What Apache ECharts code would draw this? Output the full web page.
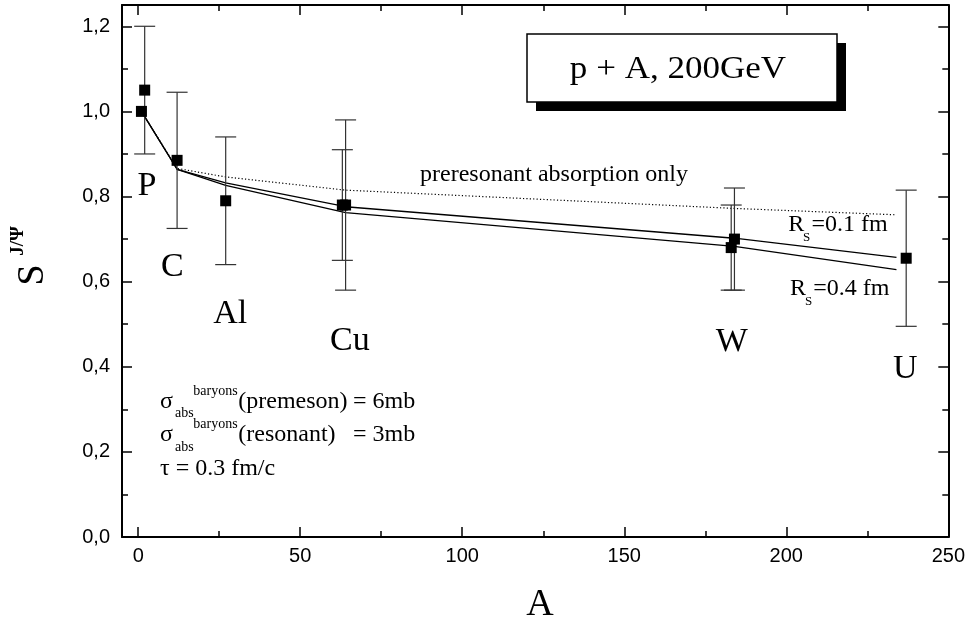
<!DOCTYPE html>
<html>
<head>
<meta charset="utf-8">
<script src="https://cdn.jsdelivr.net/npm/echarts@6/dist/echarts.min.js"></script>
<style>
  html, body { margin: 0; padding: 0; background: #fff; }
  #chart { width: 968px; height: 624px; }
</style>
</head>
<body>
<div id="chart"></div>
<script>
// Measured J/psi survival (S) versus nuclear mass number A
const dataA   = [1, 2, 12, 27, 63, 64, 183, 184, 237];
const dataS   = [1.0, 1.05, 0.885, 0.79, 0.78, 0.78, 0.68, 0.70, 0.655];
const errLow  = [null, 0.90, 0.725, 0.64, 0.65, 0.58, 0.58, 0.58, 0.495];
const errHigh = [null, 1.20, 1.045, 0.94, 0.91, 0.98, 0.78, 0.82, 0.815];

// Model curves
const modelA = [1, 12, 27, 64, 184, 234];
const rs01   = [1.0, 0.864, 0.832, 0.776, 0.702, 0.657];
const rs04   = [1.0, 0.864, 0.826, 0.762, 0.683, 0.628];
const preres = [1.0, 0.866, 0.846, 0.815, 0.772, 0.757];

// Nucleus labels and where they sit (A, S)
const nucleusNames = ['P', 'C', 'Al', 'Cu', 'W', 'U'];
const nucleusA     = [2.7, 10.5, 28.4, 65.3, 183.2, 236.7];
const nucleusS     = [0.825, 0.635, 0.524, 0.461, 0.459, 0.395];

// Axis ticks
const xMajor = [0, 50, 100, 150, 200, 250];
const xMinor = [25, 75, 125, 175, 225];
const yMajor = [0, 0.2, 0.4, 0.6, 0.8, 1.0, 1.2];
const yMinor = [0.1, 0.3, 0.5, 0.7, 0.9, 1.1];

const SERIF = '"Liberation Serif", "Times New Roman", serif';
const SANS = '"Liberation Sans", Arial, sans-serif';

const chart = echarts.init(document.getElementById('chart'), null, { renderer: 'canvas' });

const zip = (xs, ys) => xs.map((x, i) => [x, ys[i]]);
const errData = [];
dataA.forEach((a, i) => { if (errLow[i] != null) errData.push([a, errLow[i], errHigh[i]]); });

function axisX(pos, ticks, len, withLine, withLabels) {
  return {
    type: 'value', min: -5, max: 250, position: pos,
    axisLine: { show: withLine, onZero: false, lineStyle: { color: '#000', width: 2 } },
    axisTick: { show: true, inside: true, length: len, customValues: ticks, lineStyle: { color: '#000', width: 1.5 } },
    axisLabel: withLabels ? {
      show: true, customValues: ticks, margin: 9, color: '#000', fontSize: 20, fontFamily: SANS,
      formatter: v => String(Math.round(v))
    } : { show: false },
    splitLine: { show: false }
  };
}
function axisY(pos, ticks, len, withLine, withLabels) {
  return {
    type: 'value', min: 0, max: 1.25, position: pos,
    axisLine: { show: withLine, onZero: false, lineStyle: { color: '#000', width: 2 } },
    axisTick: { show: true, inside: true, length: len, customValues: ticks, lineStyle: { color: '#000', width: 1.5 } },
    axisLabel: withLabels ? {
      show: true, customValues: ticks, margin: 12, color: '#000', fontSize: 20, fontFamily: SANS,
      formatter: v => v.toFixed(1).replace('.', ',')
    } : { show: false },
    splitLine: { show: false }
  };
}

function txt(x, y, text, size) {
  return {
    type: 'text', x: x, y: y, z: 50,
    style: { text: text, fill: '#000', font: size + 'px ' + SERIF, align: 'left', verticalAlign: 'middle' }
  };
}

// Parameter block (sigma lines and tau)
const paramBase = [410, 443.3, 476.7];
const paramGraphics = [];
['(premeson)', '(resonant)'].forEach((word, i) => {
  const b = paramBase[i];
  paramGraphics.push(txt(160, b - 8.1, 'σ', 24));
  paramGraphics.push(txt(175, b + 8.5 - 4.7, 'abs', 14));
  paramGraphics.push(txt(193.3, b - 14 - 4.7, 'baryons', 14));
  paramGraphics.push(txt(238.3, b - 8.1, word, 24));
  paramGraphics.push(txt(353, b - 8.1, i === 0 ? '= 6mb' : '= 3mb', 24));
});
paramGraphics.push(txt(160, paramBase[2] - 8.1, 'τ = 0.3 fm/c', 24));

const option = {
  animation: false,
  backgroundColor: '#fff',
  grid: { left: 122, right: 16, top: 5, bottom: 87, containLabel: false },
  xAxis: [
    axisX('bottom', xMajor, 10, true, true),
    axisX('bottom', xMinor, 6, false, false),
    axisX('top', xMajor, 10, true, false),
    axisX('top', xMinor, 6, false, false)
  ],
  yAxis: [
    axisY('left', yMajor, 10, true, true),
    axisY('left', yMinor, 6, false, false),
    axisY('right', yMajor, 10, true, false),
    axisY('right', yMinor, 6, false, false)
  ],
  series: [
    {
      name: 'preresonant absorption only', type: 'line', z: 2,
      data: zip(modelA, preres), symbol: 'none',
      lineStyle: { color: '#000', width: 1.2, type: [1.2, 2.2] }
    },
    {
      name: 'Rs=0.1 fm', type: 'line', z: 2,
      data: zip(modelA, rs01), symbol: 'none',
      lineStyle: { color: '#000', width: 1.3 }
    },
    {
      name: 'Rs=0.4 fm', type: 'line', z: 2,
      data: zip(modelA, rs04), symbol: 'none',
      lineStyle: { color: '#000', width: 1.3 }
    },
    {
      name: 'errors', type: 'custom', z: 3,
      data: errData,
      renderItem: function (params, api) {
        const a = api.value(0);
        const top = api.coord([a, api.value(2)]);
        const bot = api.coord([a, api.value(1)]);
        const hw = 10.5;
        const st = { stroke: '#333', lineWidth: 1.2 };
        return {
          type: 'group',
          children: [
            { type: 'line', shape: { x1: top[0], y1: top[1], x2: bot[0], y2: bot[1] }, style: st },
            { type: 'line', shape: { x1: top[0] - hw, y1: top[1], x2: top[0] + hw, y2: top[1] }, style: st },
            { type: 'line', shape: { x1: bot[0] - hw, y1: bot[1], x2: bot[0] + hw, y2: bot[1] }, style: st }
          ]
        };
      }
    },
    {
      name: 'data', type: 'scatter', z: 4,
      data: zip(dataA, dataS), symbol: 'rect', symbolSize: 11,
      itemStyle: { color: '#000', opacity: 1 }
    },
    {
      name: 'nuclei', type: 'scatter', z: 5, silent: true,
      symbolSize: 0,
      itemStyle: { opacity: 1 },
      data: nucleusNames.map((n, i) => ({ name: n, value: [nucleusA[i], nucleusS[i]] })),
      label: {
        show: true, position: 'inside', formatter: p => p.name,
        color: '#000', fontSize: 34, fontFamily: SERIF
      }
    }
  ],
  graphic: [
    // title box with drop shadow
    { type: 'rect', z: 40, shape: { x: 536, y: 43, width: 310, height: 68 }, style: { fill: '#000' } },
    { type: 'rect', z: 41, shape: { x: 527, y: 34, width: 310, height: 68 },
      style: { fill: '#fff', stroke: '#000', lineWidth: 1.5 } },
    { type: 'text', z: 42, x: 678, y: 70.2, scaleX: 1.13,
      style: { text: 'p + A, 200GeV', fill: '#000', font: '31px ' + SERIF, align: 'center', verticalAlign: 'middle' } },

    // curve annotations
    txt(420, 175.2, 'preresonant absorption only', 24),
    txt(788.3, 225.2, 'R', 24),
    txt(803, 237.8, 'S', 13),
    txt(811.5, 225.2, '=0.1 fm', 24),
    txt(790, 288.6, 'R', 24),
    txt(805, 301.2, 'S', 13),
    txt(813.3, 288.6, '=0.4 fm', 24),

    // axis titles
    { type: 'text', z: 50, x: 33.5, y: 275, rotation: Math.PI / 2,
      style: { text: 'S', fill: '#000', font: '38px ' + SERIF, align: 'center', verticalAlign: 'middle' } },
    { type: 'text', z: 50, x: 18, y: 241, rotation: Math.PI / 2,
      style: { text: 'J/Ψ', fill: '#000', font: 'bold 19px ' + SERIF, align: 'center', verticalAlign: 'middle' } },
    { type: 'text', z: 50, x: 540, y: 605,
      style: { text: 'A', fill: '#000', font: '38px ' + SERIF, align: 'center', verticalAlign: 'middle' } }
  ].concat(paramGraphics)
};

chart.setOption(option);
</script>
</body>
</html>
